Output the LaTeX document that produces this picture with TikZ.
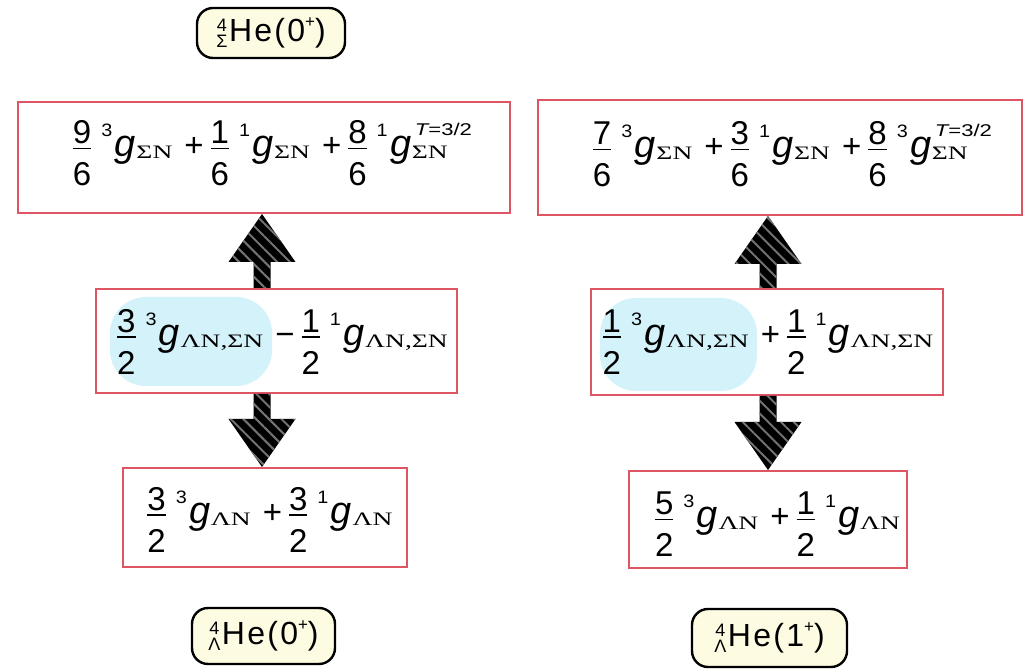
\documentclass[tikz,border=0pt]{standalone}
\usepackage{fontspec}
\setmainfont{Liberation Sans}
\newfontfamily\subf{Liberation Serif}
\newfontfamily\labf[LetterSpace=7]{Liberation Sans}
\usepackage{graphicx}
\usetikzlibrary{calc,patterns.meta}

\definecolor{boxred}{RGB}{222,85,100}
\definecolor{hlcyan}{RGB}{212,242,250}
\definecolor{labfill}{RGB}{253,251,226}

% fraction
\newcommand\fr[2]{\begingroup\setbox0\hbox{#1}\setbox2\hbox{#2}%
 \dimen0=\wd0 \ifdim\wd2>\dimen0 \dimen0=\wd2 \fi
 \raisebox{6.5pt}{\makebox[\dimen0]{#1}}\kern-\dimen0
 \rule[3.8pt]{\dimen0}{0.8pt}\kern-\dimen0
 \raisebox{-14.5pt}{\makebox[\dimen0]{#2}}\endgroup\kern5pt}
\newcommand\psup[1]{\raisebox{10pt}{\scalebox{1.1}[1]{\fontsize{9}{9}\selectfont #1}}}
\newcommand\gsub[1]{\raisebox{-1pt}{\scalebox{1.45}[1]{\fontsize{9.5}{9.5}\selectfont\subf #1}}}
\newcommand\gsym{{\fontsize{19}{19}\selectfont\itshape g}}
\newcommand\gterm[2]{\psup{#1}\kern1.2pt\gsym\kern0.3pt\gsub{#2}}
\newcommand\gtermT[2]{\psup{#1}\kern1.2pt\gsym\kern0.3pt%
 \begingroup\setbox0\hbox{\kern1.5pt\raisebox{10.5pt}{\scalebox{1.3}[1]{\fontsize{8.5}{8.5}\selectfont\itshape T\upshape=3/2}}}%
 \setbox2\hbox{\gsub{#2}}%
 \rlap{\copy0}\copy2\ifdim\wd0>\wd2 \kern\dimexpr\wd0-\wd2\relax\fi\endgroup}
\newcommand\op[1]{\kern6pt#1\kern3.5pt}
% nuclide prescripts
\newcommand\pre[2]{\raisebox{-3pt}{\vbox{\fontsize{9}{8.1}\selectfont\baselineskip=8.1pt\lineskiplimit=-5pt\halign{\hfil##\hfil\cr#1\cr#2\cr}}}\kern0.8pt}
\newcommand\plus{\raisebox{7pt}{\fontsize{8.5}{8.5}\selectfont +}}

\tikzset{
 rbox/.style={draw=boxred, line width=1pt, fill=white, inner sep=0pt},
 labbox/.style={draw=black, line width=1.2pt, fill=labfill, rounded corners=8pt, inner sep=0pt,
   font=\fontsize{16}{18}\labf},
 eqtext/.style={inner sep=0pt, font=\fontsize{16.5}{19}\selectfont},
 hl/.style={fill=hlcyan, rounded corners=18pt},
 fatarr/.style={preaction={fill=black}, pattern={Lines[angle=-45,distance=4.5pt,line width=1pt]}, pattern color=black!55}
}
\newcommand\fatarrow[2]{%
 \coordinate (hb) at ($(#2)!24pt!(#1)$);
 \path[fatarr] ($(#1)!4.25pt!90:(#2)$) -- ($(hb)!4.25pt!90:(#2)$) -- ($(hb)!16.75pt!90:(#2)$)
   -- (#2) -- ($(hb)!16.75pt!-90:(#2)$) -- ($(hb)!4.25pt!-90:(#2)$) -- ($(#1)!4.25pt!-90:(#2)$) -- cycle;}

\begin{document}
\begin{tikzpicture}[x=0.5pt,y=-0.5pt]
\useasboundingbox (0,0) rectangle (1026,672);
\fill[white] (0,0) rectangle (1026,672);

% labels
\node[labbox, minimum width=74pt, minimum height=25pt] (lab1) at (271,33) {\pre{4}{Σ}He(0\plus)};
\node[labbox, minimum width=71.5pt, minimum height=28pt] (lab2) at (263.5,636) {\pre{4}{Λ}He(0\plus)};
\node[labbox, minimum width=77.5pt, minimum height=29pt] (lab3) at (769.5,638) {\pre{4}{Λ}He(1\plus)};

% boxes
\node[rbox, minimum width=246pt, minimum height=55.5pt] (box1) at (264,157.5) {};
\node[rbox, minimum width=242pt, minimum height=57.5pt] (box2) at (780,157.5) {};
\node[rbox, minimum width=180.5pt, minimum height=52pt] (mid1) at (276.5,341) {};
\node[rbox, minimum width=176pt, minimum height=53pt] (mid2) at (767,342) {};
\node[rbox, minimum width=142pt, minimum height=49.5pt] (bot1) at (265,517.5) {};
\node[rbox, minimum width=139pt, minimum height=48.5pt] (bot2) at (768,519.5) {};

% highlights
\fill[hl] (110,297) rectangle (272,386);
\fill[hl] (600,298) rectangle (757,391);

% texts
\node[eqtext] (t1) at (272.5,153.5) {\fr{9}{6}\gterm{3}{ΣN}\op{+}\fr{1}{6}\gterm{1}{ΣN}\op{+}\fr{8}{6}\gtermT{1}{ΣN}};
\node[eqtext] (t2) at (792.5,154.5) {\fr{7}{6}\gterm{3}{ΣN}\op{+}\fr{3}{6}\gterm{1}{ΣN}\op{+}\fr{8}{6}\gtermT{3}{ΣN}};
\node[eqtext] (t3) at (282.5,342) {\fr{3}{2}\gterm{3}{ΛN,ΣN}\op{−}\fr{1}{2}\gterm{1}{ΛN,ΣN}};
\node[eqtext] (t4) at (768,342) {\fr{1}{2}\gterm{3}{ΛN,ΣN}\op{+}\fr{1}{2}\gterm{1}{ΛN,ΣN}};
\node[eqtext] (t5) at (270,520) {\fr{3}{2}\gterm{3}{ΛN}\op{+}\fr{3}{2}\gterm{1}{ΛN}};
\node[eqtext] (t6) at (777.5,524.5) {\fr{5}{2}\gterm{3}{ΛN}\op{+}\fr{1}{2}\gterm{1}{ΛN}};

% arrows
\coordinate (ax1) at (262,0);
\coordinate (ax2) at (768,0);
\coordinate (a1s) at (mid1.north -| ax1);
\coordinate (a1e) at (box1.south -| ax1);
\coordinate (a2s) at (mid1.south -| ax1);
\coordinate (a2e) at (bot1.north -| ax1);
\coordinate (a3s) at (mid2.north -| ax2);
\coordinate (a3e) at (box2.south -| ax2);
\coordinate (a4s) at (mid2.south -| ax2);
\coordinate (a4e) at (bot2.north -| ax2);
\fatarrow{a1s}{a1e}
\fatarrow{a2s}{a2e}
\fatarrow{a3s}{a3e}
\fatarrow{a4s}{a4e}
\end{tikzpicture}
\end{document}
